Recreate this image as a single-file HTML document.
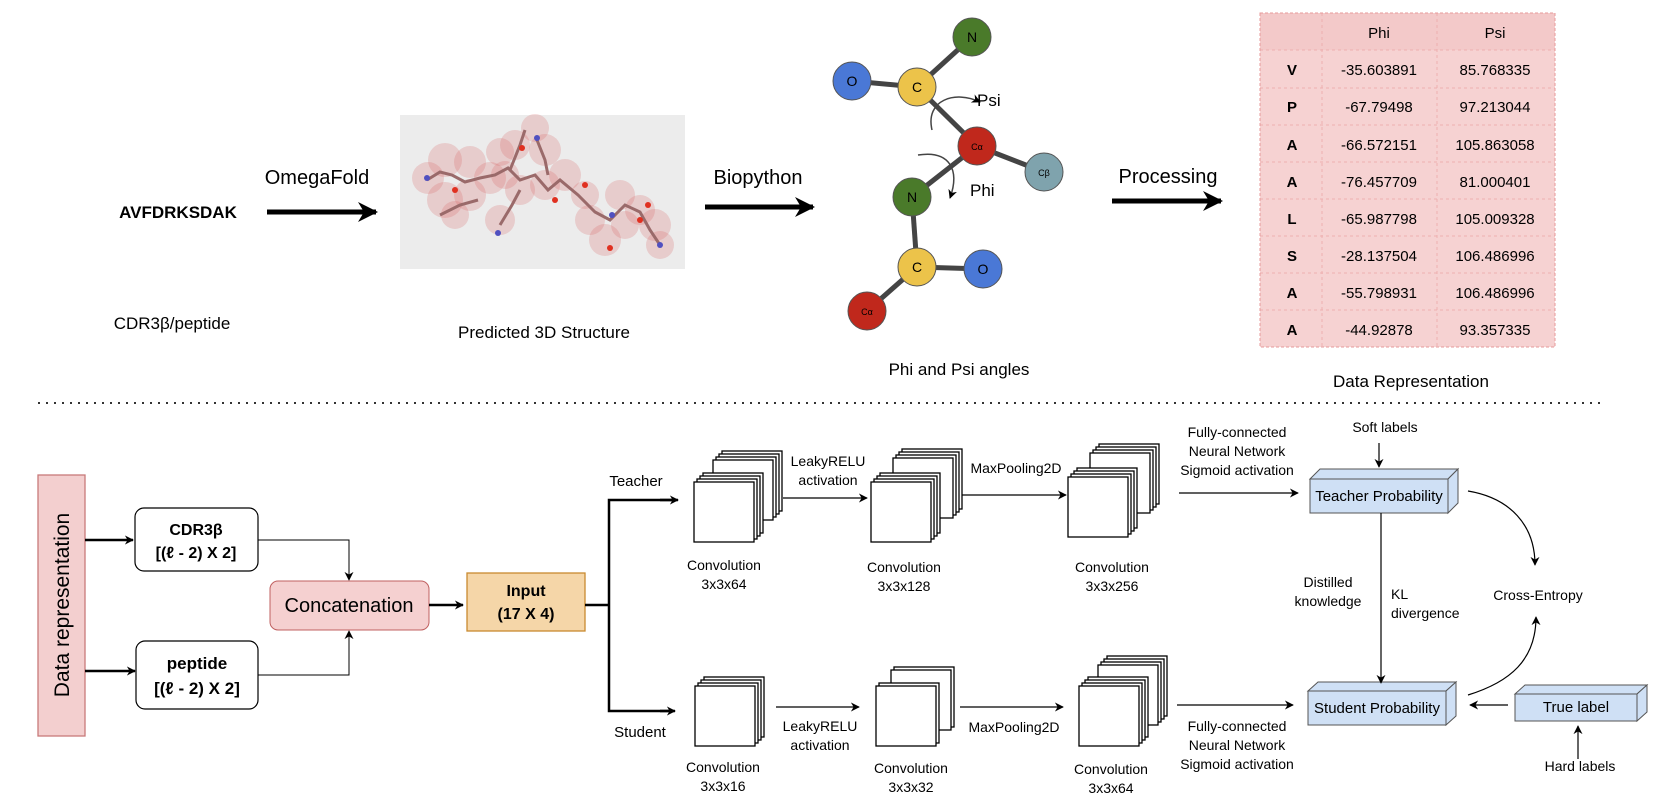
<!DOCTYPE html>
<html><head><meta charset="utf-8"><style>
html,body{margin:0;padding:0;background:#fff;}
svg{display:block;font-family:"Liberation Sans",sans-serif;}
</style></head><body>
<svg width="1674" height="805" viewBox="0 0 1674 805" xmlns="http://www.w3.org/2000/svg">
<defs>
<marker id="a" viewBox="0 0 10 10" refX="9" refY="5" markerWidth="9" markerHeight="9" markerUnits="userSpaceOnUse" orient="auto"><path d="M0,0 L10,5 L0,10 L3,5 z" fill="#000"/></marker>
<marker id="big" viewBox="0 0 10 10" refX="9" refY="5" markerWidth="20" markerHeight="20" markerUnits="userSpaceOnUse" orient="auto"><path d="M0,0 L10,5 L0,10 L3,5 z" fill="#000"/></marker>
<g id="sq"><rect width="60" height="60" fill="#fff" stroke="#000" stroke-width="1.3"/></g>
<g id="st4"><use href="#sq" x="9" y="-9"/><use href="#sq" x="6" y="-6"/><use href="#sq" x="3" y="-3"/><use href="#sq"/></g>
<g id="st2"><use href="#sq" x="3" y="-3"/><use href="#sq"/></g>
</defs>

<!-- TOP -->
<text x="178" y="218" font-size="17" font-weight="bold" text-anchor="middle">AVFDRKSDAK</text>
<line x1="267" y1="212" x2="376" y2="212" stroke="#000" stroke-width="5" marker-end="url(#big)"/>
<text x="317" y="184" font-size="20" text-anchor="middle">OmegaFold</text>
<text x="172" y="329" font-size="17" text-anchor="middle">CDR3β/peptide</text>
<rect x="400" y="115" width="285" height="154" fill="#ececec"/>
<g fill="rgba(215,90,90,0.22)">
<circle cx="428" cy="178" r="16"/><circle cx="445" cy="160" r="17"/><circle cx="470" cy="162" r="16"/><circle cx="445" cy="200" r="18"/><circle cx="470" cy="195" r="16"/><circle cx="490" cy="178" r="16"/><circle cx="500" cy="152" r="14"/><circle cx="515" cy="145" r="15"/><circle cx="535" cy="128" r="14"/><circle cx="545" cy="150" r="16"/><circle cx="520" cy="190" r="15"/><circle cx="500" cy="220" r="15"/><circle cx="545" cy="185" r="15"/><circle cx="565" cy="175" r="16"/><circle cx="585" cy="195" r="14"/><circle cx="590" cy="220" r="15"/><circle cx="605" cy="240" r="16"/><circle cx="620" cy="195" r="15"/><circle cx="640" cy="210" r="15"/><circle cx="655" cy="225" r="16"/><circle cx="660" cy="245" r="14"/><circle cx="625" cy="225" r="14"/><circle cx="455" cy="215" r="14"/><circle cx="505" cy="175" r="14"/>
</g>
<g fill="none" stroke="#9a6a6a" stroke-width="3">
<polyline points="427,180 440,172 452,175 465,182 480,178 495,175 508,168 520,180 535,175 548,190 560,180 578,195 595,212 610,220 625,205 640,212 650,230 660,245"/>
<polyline points="440,215 460,205 478,200"/><polyline points="500,225 512,205 520,190"/><polyline points="537,140 545,160 548,175"/><polyline points="510,170 520,145 525,130"/>
</g>
<g fill="#e03020"><circle cx="455" cy="190" r="3"/><circle cx="522" cy="148" r="3"/><circle cx="555" cy="200" r="3"/><circle cx="585" cy="185" r="3"/><circle cx="610" cy="248" r="3"/><circle cx="640" cy="220" r="3"/><circle cx="648" cy="205" r="3"/></g>
<g fill="#5050c0"><circle cx="427" cy="178" r="3"/><circle cx="498" cy="233" r="3"/><circle cx="537" cy="138" r="3"/><circle cx="660" cy="245" r="3"/><circle cx="612" cy="215" r="3"/></g>
<text x="544" y="338" font-size="17" text-anchor="middle">Predicted 3D Structure</text>

<text x="758" y="184" font-size="20" text-anchor="middle">Biopython</text>
<line x1="705" y1="207" x2="813" y2="207" stroke="#000" stroke-width="5" marker-end="url(#big)"/>

<!-- molecule -->
<g stroke="#444" stroke-width="5" fill="none">
<line x1="852" y1="81" x2="917" y2="87"/><line x1="917" y1="87" x2="972" y2="37"/><line x1="917" y1="87" x2="977" y2="146"/><line x1="977" y1="146" x2="1044" y2="172"/><line x1="977" y1="146" x2="912" y2="197"/><line x1="912" y1="197" x2="917" y2="267"/><line x1="917" y1="267" x2="983" y2="269"/><line x1="917" y1="267" x2="867" y2="311"/>
</g>
<g stroke="#444" stroke-width="1.5" fill="none">
<path d="M932,130 C925,100 955,90 980,102" marker-end="url(#a)"/>
<path d="M918,155 C950,150 960,170 950,198" marker-end="url(#a)"/>
</g>
<g stroke="#555" stroke-width="1">
<circle cx="852" cy="81" r="19" fill="#4a78d6"/><circle cx="917" cy="87" r="19" fill="#ecc34a"/><circle cx="972" cy="37" r="19" fill="#4a7a2a"/><circle cx="977" cy="146" r="19" fill="#c0281c"/><circle cx="1044" cy="172" r="19" fill="#7fa3ad"/><circle cx="912" cy="197" r="19" fill="#4a7a2a"/><circle cx="917" cy="267" r="19" fill="#ecc34a"/><circle cx="983" cy="269" r="19" fill="#4a78d6"/><circle cx="867" cy="311" r="19" fill="#c0281c"/>
</g>
<g font-size="14" text-anchor="middle">
<text x="852" y="86">O</text><text x="917" y="92">C</text><text x="972" y="42">N</text><text x="977" y="150" font-size="9">Cα</text><text x="1044" y="176" font-size="9">Cβ</text><text x="912" y="202">N</text><text x="917" y="272">C</text><text x="983" y="274">O</text><text x="867" y="315" font-size="9">Cα</text>
</g>
<text x="977" y="106" font-size="17">Psi</text>
<text x="970" y="196" font-size="17">Phi</text>
<text x="959" y="375" font-size="17" text-anchor="middle">Phi and Psi angles</text>

<text x="1168" y="183" font-size="20" text-anchor="middle">Processing</text>
<line x1="1112" y1="201" x2="1221" y2="201" stroke="#000" stroke-width="5" marker-end="url(#big)"/>

<!-- table -->
<rect x="1260" y="13" width="295" height="334" fill="#f6d2d2" stroke="#e79a9a" stroke-dasharray="3,2"/>
<rect x="1260" y="13" width="295" height="37" fill="#f3c9c9"/>
<g stroke="#eeb0b0" stroke-dasharray="3,3" stroke-width="1">
<line x1="1322" y1="13" x2="1322" y2="347"/><line x1="1437" y1="13" x2="1437" y2="347"/>
<line x1="1260" y1="50" x2="1555" y2="50"/><line x1="1260" y1="88" x2="1555" y2="88"/><line x1="1260" y1="125" x2="1555" y2="125"/><line x1="1260" y1="162" x2="1555" y2="162"/><line x1="1260" y1="199" x2="1555" y2="199"/><line x1="1260" y1="236" x2="1555" y2="236"/><line x1="1260" y1="273" x2="1555" y2="273"/><line x1="1260" y1="310" x2="1555" y2="310"/>
</g>
<rect x="1260" y="13" width="295" height="334" fill="none" stroke="#e79a9a" stroke-dasharray="3,2"/>
<g font-size="15" text-anchor="middle">
<text x="1379" y="38">Phi</text><text x="1495" y="38">Psi</text>
<g font-weight="bold"><text x="1292" y="75">V</text><text x="1292" y="112">P</text><text x="1292" y="150">A</text><text x="1292" y="187">A</text><text x="1292" y="224">L</text><text x="1292" y="261">S</text><text x="1292" y="298">A</text><text x="1292" y="335">A</text></g>
<text x="1379" y="75">-35.603891</text><text x="1495" y="75">85.768335</text>
<text x="1379" y="112">-67.79498</text><text x="1495" y="112">97.213044</text>
<text x="1379" y="150">-66.572151</text><text x="1495" y="150">105.863058</text>
<text x="1379" y="187">-76.457709</text><text x="1495" y="187">81.000401</text>
<text x="1379" y="224">-65.987798</text><text x="1495" y="224">105.009328</text>
<text x="1379" y="261">-28.137504</text><text x="1495" y="261">106.486996</text>
<text x="1379" y="298">-55.798931</text><text x="1495" y="298">106.486996</text>
<text x="1379" y="335">-44.92878</text><text x="1495" y="335">93.357335</text>
</g>
<text x="1411" y="387" font-size="17" text-anchor="middle">Data Representation</text>

<line x1="38" y1="403" x2="1604" y2="403" stroke="#333" stroke-width="2" stroke-dasharray="2,6"/>

<!-- BOTTOM -->
<rect x="38" y="475" width="47" height="261" fill="#f3cfcf" stroke="#c87a7a" stroke-width="1.3"/>
<text transform="translate(69,605) rotate(-90)" font-size="21" text-anchor="middle">Data representation</text>
<line x1="85" y1="540" x2="133" y2="540" stroke="#000" stroke-width="2.5" marker-end="url(#a)"/>
<line x1="85" y1="671" x2="135" y2="671" stroke="#000" stroke-width="2.5" marker-end="url(#a)"/>
<rect x="135" y="508" width="123" height="63" rx="9" fill="#fff" stroke="#000" stroke-width="1.2"/>
<text x="196" y="535" font-size="16" font-weight="bold" text-anchor="middle">CDR3β</text>
<text x="196" y="558" font-size="16" font-weight="bold" text-anchor="middle">[(ℓ - 2) X 2]</text>
<rect x="136" y="641" width="122" height="68" rx="9" fill="#fff" stroke="#000" stroke-width="1.2"/>
<text x="197" y="669" font-size="17" font-weight="bold" text-anchor="middle">peptide</text>
<text x="197" y="694" font-size="17" font-weight="bold" text-anchor="middle">[(ℓ - 2) X 2]</text>
<polyline points="258,540 349,540 349,580" fill="none" stroke="#000" stroke-width="1" marker-end="url(#a)"/>
<polyline points="258,675 349,675 349,631" fill="none" stroke="#000" stroke-width="1" marker-end="url(#a)"/>
<rect x="270" y="581" width="159" height="49" rx="8" fill="#f5d0d0" stroke="#c06060" stroke-width="1"/>
<text x="349" y="612" font-size="20" text-anchor="middle">Concatenation</text>
<line x1="429" y1="605" x2="463" y2="605" stroke="#000" stroke-width="2.5" marker-end="url(#a)"/>
<rect x="467" y="573" width="118" height="58" fill="#f5d6a8" stroke="#c98a30" stroke-width="1.3"/>
<text x="526" y="596" font-size="16" font-weight="bold" text-anchor="middle">Input</text>
<text x="526" y="619" font-size="16" font-weight="bold" text-anchor="middle">(17 X 4)</text>
<polyline points="585,605 609,605" stroke="#000" stroke-width="2.5"/>
<polyline points="676,500 609,500 609,711 673,711" fill="none" stroke="#000" stroke-width="2.5"/>
<line x1="660" y1="500" x2="678" y2="500" stroke="#000" stroke-width="2.5" marker-end="url(#a)"/>
<line x1="660" y1="711" x2="675" y2="711" stroke="#000" stroke-width="2.5" marker-end="url(#a)"/>
<text x="636" y="486" font-size="15" text-anchor="middle">Teacher</text>
<text x="640" y="737" font-size="15" text-anchor="middle">Student</text>

<!-- teacher convs -->
<use href="#st4" x="713" y="460"/><use href="#st4" x="694" y="482"/>
<use href="#st4" x="893" y="458"/><use href="#st4" x="871" y="482"/>
<use href="#st4" x="1090" y="453"/><use href="#st4" x="1068" y="477"/>
<!-- student convs -->
<use href="#st4" x="695" y="686"/>
<use href="#st2" x="891" y="670"/><use href="#st2" x="876" y="686"/>
<use href="#st4" x="1098" y="665"/><use href="#st4" x="1079" y="686"/>

<g font-size="14" text-anchor="middle">
<text x="724" y="570">Convolution</text><text x="724" y="589">3x3x64</text>
<text x="904" y="572">Convolution</text><text x="904" y="591">3x3x128</text>
<text x="1112" y="572">Convolution</text><text x="1112" y="591">3x3x256</text>
<text x="723" y="772">Convolution</text><text x="723" y="791">3x3x16</text>
<text x="911" y="773">Convolution</text><text x="911" y="792">3x3x32</text>
<text x="1111" y="774">Convolution</text><text x="1111" y="793">3x3x64</text>
<text x="828" y="466">LeakyRELU</text><text x="828" y="485">activation</text>
<text x="1016" y="473">MaxPooling2D</text>
<text x="820" y="731">LeakyRELU</text><text x="820" y="750">activation</text>
<text x="1014" y="732">MaxPooling2D</text>
<text x="1237" y="437">Fully-connected</text><text x="1237" y="456">Neural Network</text><text x="1237" y="475">Sigmoid activation</text>
<text x="1237" y="731">Fully-connected</text><text x="1237" y="750">Neural Network</text><text x="1237" y="769">Sigmoid activation</text>
<text x="1385" y="432">Soft labels</text>
<text x="1328" y="587">Distilled</text><text x="1328" y="606">knowledge</text>
<text x="1391" y="599" text-anchor="start">KL</text><text x="1391" y="618" text-anchor="start">divergence</text>
<text x="1538" y="600">Cross-Entropy</text>
<text x="1580" y="771">Hard labels</text>
</g>

<!-- 3D boxes -->
<g stroke="#555" stroke-width="1" fill="#cfe0f5">
<polygon points="1310,479 1320,469 1458,469 1448,479"/><polygon points="1448,479 1458,469 1458,503 1448,513"/><rect x="1310" y="479" width="138" height="34"/>
<polygon points="1308,691 1318,682 1456,682 1446,691"/><polygon points="1446,691 1456,682 1456,716 1446,725"/><rect x="1308" y="691" width="138" height="34"/>
<polygon points="1515,694 1525,685 1647,685 1637,694"/><polygon points="1637,694 1647,685 1647,712 1637,721"/><rect x="1515" y="694" width="122" height="27"/>
</g>
<g font-size="15" text-anchor="middle">
<text x="1379" y="501">Teacher Probability</text>
<text x="1377" y="713">Student Probability</text>
<text x="1576" y="712">True label</text>
</g>

<g stroke="#000" stroke-width="1.2" fill="none">
<line x1="783" y1="498" x2="867" y2="498" marker-end="url(#a)"/>
<line x1="962" y1="495" x2="1066" y2="495" marker-end="url(#a)"/>
<line x1="776" y1="707" x2="859" y2="707" marker-end="url(#a)"/>
<line x1="960" y1="707" x2="1063" y2="707" marker-end="url(#a)"/>
<line x1="1179" y1="493" x2="1298" y2="493" marker-end="url(#a)"/>
<line x1="1177" y1="705" x2="1293" y2="705" marker-end="url(#a)"/>
<line x1="1379" y1="443" x2="1379" y2="467" marker-end="url(#a)"/>
<line x1="1381" y1="513" x2="1381" y2="683" marker-end="url(#a)"/>
<line x1="1508" y1="705" x2="1470" y2="705" marker-end="url(#a)"/>
<line x1="1578" y1="759" x2="1578" y2="726" marker-end="url(#a)"/>
<path d="M1468,491 C1510,498 1535,525 1535,565" marker-end="url(#a)"/>
<path d="M1468,695 C1510,682 1536,660 1536,617" marker-end="url(#a)"/>
</g>
</svg>
</body></html>
